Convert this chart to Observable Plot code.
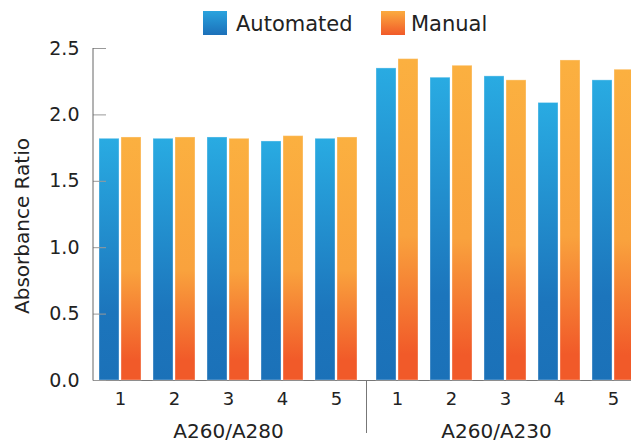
<!DOCTYPE html>
<html><head><meta charset="utf-8">
<script src="https://cdn.jsdelivr.net/npm/d3@7"></script>
<script src="https://cdn.jsdelivr.net/npm/@observablehq/plot@0.6"></script>
<style>
html,body{margin:0;padding:0;background:#fff;overflow:hidden}
body{font-family:"DejaVu Sans",sans-serif;color:#222;width:631px;height:448px}
#legend{height:30px;position:relative}
.sw{position:absolute;top:11px;width:24px;height:24px}
.lt{position:absolute;top:11px;font-size:21px;line-height:26px;white-space:nowrap}
#chart{position:relative}
</style></head><body>
<div id="legend"></div>
<div id="chart"></div>
<script>
const groups = ["A260/A280", "A260/A230"];
const runs = ["1", "2", "3", "4", "5"];
const series = ["Automated", "Manual"];
const automatedA280 = [1.82, 1.82, 1.83, 1.80, 1.82];
const manualA280   = [1.83, 1.83, 1.82, 1.84, 1.83];
const automatedA230 = [2.35, 2.28, 2.29, 2.09, 2.26];
const manualA230   = [2.42, 2.37, 2.26, 2.41, 2.34];
const yTicks = [0, 0.5, 1.0, 1.5, 2.0, 2.5];
const yLabel = "Absorbance Ratio";

const rows = [];
runs.forEach((r, i) => {
  rows.push({group: groups[0], run: r, series: series[0], value: automatedA280[i]});
  rows.push({group: groups[0], run: r, series: series[1], value: manualA280[i]});
  rows.push({group: groups[1], run: r, series: series[0], value: automatedA230[i]});
  rows.push({group: groups[1], run: r, series: series[1], value: manualA230[i]});
});

// legend
const legend = d3.select("#legend");
const legendItems = [
  {name: series[0], grad: "linear-gradient(#29a3de,#1c70b9)", sx: 203, tx: 236},
  {name: series[1], grad: "linear-gradient(#fbab3f,#f15a29)", sx: 381, tx: 411}
];
legendItems.forEach(d => {
  legend.append("div").attr("class", "sw").style("left", d.sx + "px").style("background", d.grad);
  legend.append("div").attr("class", "lt").style("left", d.tx + "px").text(d.name);
});

const chart = Plot.plot({
  width: 631, height: 418,
  marginTop: 18, marginBottom: 68, marginLeft: 92, marginRight: -9,
  style: {fontFamily: "DejaVu Sans", fontSize: "18px", color: "#222", background: "transparent", overflow: "visible"},
  fx: {domain: groups, paddingInner: 0.027, paddingOuter: 0, axis: null},
  x: {domain: runs, paddingInner: 0.228, paddingOuter: 0.097},
  y: {domain: [0, 2.5]},
  marks: [
    Plot.ruleY([0], {stroke: "#777", insetRight: -8}),
    Plot.barY(rows.filter(d => d.series === series[0]), {
      fx: "group", x: "run", y: "value", fill: "url(#gradBlue)", insetRight: 22,
      stroke: "#ffffff", strokeOpacity: 0.35, strokeWidth: 1
    }),
    Plot.barY(rows.filter(d => d.series === series[1]), {
      fx: "group", x: "run", y: "value", fill: "url(#gradOrange)", insetLeft: 22,
      stroke: "#ffffff", strokeOpacity: 0.35, strokeWidth: 1
    }),
    Plot.axisY(yTicks, {tickSize: -13, tickPadding: 27, stroke: "#999", tickFormat: d3.format(".1f"), label: null, fontSize: 19}),
    Plot.axisX({tickSize: 0, tickPadding: 12, label: null, fontSize: 18}),
    Plot.text([groups[0]], {fx: d => d, text: d => d, frameAnchor: "bottom", dy: 57, fontSize: 20}),
    Plot.text([groups[1]], {fx: d => d, text: d => d, frameAnchor: "bottom", dy: 57, dx: -9, fontSize: 20})
  ]
});

const svg = d3.select(chart);
const defs = svg.insert("defs", ":first-child");
const gb = defs.append("linearGradient").attr("id", "gradBlue").attr("x1", 0).attr("y1", 0).attr("x2", 0).attr("y2", 1);
[[0, "#29abe2"], [0.72, "#1c75bc"], [1, "#1b71b8"]].forEach(([o, c]) => gb.append("stop").attr("offset", o).attr("stop-color", c));
const go = defs.append("linearGradient").attr("id", "gradOrange").attr("x1", 0).attr("y1", 0).attr("x2", 0).attr("y2", 1);
[[0, "#fbb040"], [0.55, "#f9a23d"], [0.92, "#f15a29"], [1, "#f15a29"]].forEach(([o, c]) => go.append("stop").attr("offset", o).attr("stop-color", c));

// y axis line and separator, positioned from the scales
const fx = chart.scale("fx"), y = chart.scale("y");
const leftX = fx.apply(groups[0]);
const sepX = (leftX + fx.bandwidth + fx.apply(groups[1])) / 2;
svg.append("line").attr("x1", leftX).attr("x2", leftX).attr("y1", y.apply(2.5)).attr("y2", y.apply(0) + 0.5).attr("stroke", "#666");
svg.append("line").attr("x1", sepX).attr("x2", sepX).attr("y1", y.apply(0)).attr("y2", y.apply(0) + 53).attr("stroke", "#777");
svg.append("text").attr("transform", `translate(22,${(y.apply(0) + y.apply(2.5)) / 2 + 12}) rotate(-90)`)
  .attr("text-anchor", "middle").attr("dominant-baseline", "central")
  .attr("font-size", 20).attr("fill", "#222").text(yLabel);

document.getElementById("chart").append(chart);
</script>
</body></html>
